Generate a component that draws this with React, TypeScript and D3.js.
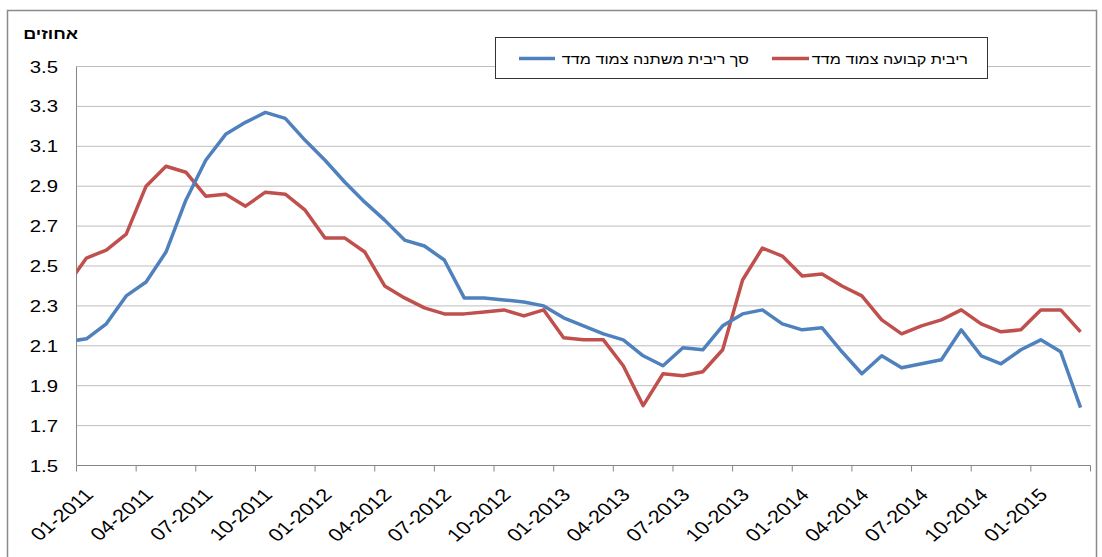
import * as d3 from "d3";

// months from 12-2010 to 03-2015; the first point sits just left of the axis and is clipped
const firstMonth = -1;

const fixedIndexed = [
  2.4, 2.54, 2.58, 2.66, 2.9, 3.0, 2.97, 2.85, 2.86, 2.8, 2.87, 2.86, 2.78,
  2.64, 2.64, 2.57, 2.4, 2.34, 2.29, 2.26, 2.26, 2.27, 2.28, 2.25, 2.28,
  2.14, 2.13, 2.13, 2.0, 1.8, 1.96, 1.95, 1.97, 2.08, 2.43, 2.59, 2.55, 2.45,
  2.46, 2.4, 2.35, 2.23, 2.16, 2.2, 2.23, 2.28, 2.21, 2.17, 2.18, 2.28, 2.28,
  2.17,
];

const variableIndexed = [
  2.12, 2.135, 2.21, 2.35, 2.42, 2.57, 2.83, 3.03, 3.16, 3.22, 3.27, 3.24,
  3.13, 3.03, 2.92, 2.82, 2.73, 2.63, 2.6, 2.53, 2.34, 2.34, 2.33, 2.32, 2.3,
  2.24, 2.2, 2.16, 2.13, 2.05, 2.0, 2.09, 2.08, 2.2, 2.26, 2.28, 2.21, 2.18,
  2.19, 2.07, 1.96, 2.05, 1.99, 2.01, 2.03, 2.18, 2.05, 2.01, 2.08, 2.13,
  2.07, 1.79,
];

const tickLabels = [
  "01-2011", "04-2011", "07-2011", "10-2011",
  "01-2012", "04-2012", "07-2012", "10-2012",
  "01-2013", "04-2013", "07-2013", "10-2013",
  "01-2014", "04-2014", "07-2014", "10-2014",
  "01-2015",
];

const yTicks = [1.5, 1.7, 1.9, 2.1, 2.3, 2.5, 2.7, 2.9, 3.1, 3.3, 3.5];

const seriesNames = ["ריבית קבועה צמוד מדד", "סך ריבית משתנה צמוד מדד"];
const colors = ["#C0504D", "#4F81BD"];

const W = 1102;
const H = 557;
const font = "'Liberation Sans', Arial, sans-serif";
const sx = 1.2; // the source picture is stretched sideways

const x = d3.scaleLinear().domain([0, 51]).range([76.5, 1090.5]);
const y = d3.scaleLinear().domain([1.5, 3.5]).range([465.5, 66.5]);

const line = d3
  .line<number>()
  .x((_, i) => x(firstMonth + i + 0.5))
  .y((d) => y(d));

const App = () => {
  const monthTicks = d3.range(0, 52, 3);
  return (
    <svg
      width={W}
      height={H}
      style={{ position: "absolute", left: 0, top: 0 }}
      fontFamily={font}
    >
      <rect x={0} y={0} width={W} height={H} fill="#fff" />
      <rect
        x={7.5}
        y={10.5}
        width={1089}
        height={620}
        fill="none"
        stroke="#8a8a8a"
        strokeWidth={1.5}
      />
      <defs>
        <clipPath id="plot">
          <rect x={x(0)} y={0} width={x(51) - x(0)} height={H} />
        </clipPath>
      </defs>

      {yTicks.slice(1).map((t) => (
        <line
          key={t}
          x1={x(0)}
          x2={x(51)}
          y1={y(t)}
          y2={y(t)}
          stroke="#bdbdbd"
        />
      ))}
      {yTicks.map((t) => (
        <text
          key={t}
          transform={`translate(58,${y(t) + 6}) scale(${sx},1)`}
          textAnchor="end"
          fontSize={17}
          fill="#000"
        >
          {t.toFixed(1)}
        </text>
      ))}

      <line x1={x(0)} x2={x(0)} y1={y(3.5)} y2={y(1.5)} stroke="#868686" />
      <line x1={x(0)} x2={x(51)} y1={y(1.5)} y2={y(1.5)} stroke="#868686" />
      {monthTicks.map((m) => (
        <line
          key={m}
          x1={x(m)}
          x2={x(m)}
          y1={y(1.5)}
          y2={y(1.5) + 6}
          stroke="#868686"
        />
      ))}
      {tickLabels.map((lab, i) => (
        <text
          key={lab}
          transform={`translate(${x(i * 3) + 18},496) scale(${sx},1) rotate(-45)`}
          textAnchor="end"
          fontSize={18}
          fill="#000"
        >
          {lab}
        </text>
      ))}

      <g clipPath="url(#plot)">
        {[fixedIndexed, variableIndexed].map((s, i) => (
          <path
            key={i}
            d={line(s) ?? ""}
            fill="none"
            stroke={colors[i]}
            strokeWidth={3.5}
            strokeLinejoin="round"
          />
        ))}
      </g>

      <text
        transform={`translate(78,39) scale(${sx},1)`}
        textAnchor="end"
        fontSize={15}
        fontWeight="bold"
        fill="#000"
      >
        אחוזים
      </text>

      <rect
        x={495.5}
        y={37.5}
        width={492}
        height={41}
        fill="#fff"
        stroke="#333"
      />
      <line x1={772} x2={809} y1={58.5} y2={58.5} stroke={colors[0]} strokeWidth={3.5} />
      <text
        transform={`translate(968,64) scale(${sx},1)`}
        textAnchor="end"
        fontSize={13.5}
        fill="#000"
      >
        {seriesNames[0]}
      </text>
      <line x1={519} x2={555} y1={58.5} y2={58.5} stroke={colors[1]} strokeWidth={3.5} />
      <text
        transform={`translate(749,64) scale(${sx},1)`}
        textAnchor="end"
        fontSize={13.5}
        fill="#000"
      >
        {seriesNames[1]}
      </text>
    </svg>
  );
};

export default App;
